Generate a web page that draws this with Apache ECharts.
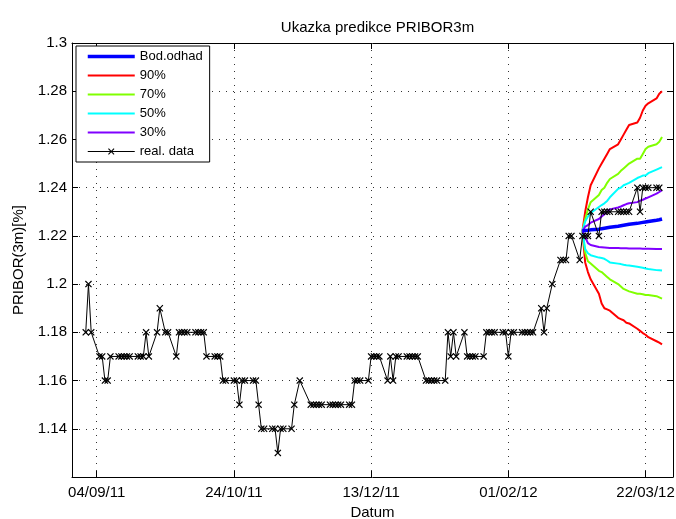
<!DOCTYPE html>
<html lang="cs">
<head>
<meta charset="UTF-8">
<title>Ukazka predikce PRIBOR3m</title>
<style>
    html, body { margin: 0; padding: 0; background: #fff; }
    #main { width: 676px; height: 519px; }
</style>
</head>
<body>
<div id="main"></div>
<script src="https://cdn.jsdelivr.net/npm/echarts@6/dist/echarts.min.js"></script>
<script>
    const chart = echarts.init(document.getElementById('main'));
    const font = 'Liberation Sans, Arial, Helvetica, sans-serif';

    /* realna data PRIBOR3m */
    const realDates = [
        '2011-08-31','2011-09-01','2011-09-02','2011-09-05','2011-09-06','2011-09-07','2011-09-08','2011-09-09',
        '2011-09-12','2011-09-13','2011-09-14','2011-09-15','2011-09-16','2011-09-19','2011-09-20','2011-09-21',
        '2011-09-22','2011-09-23','2011-09-26','2011-09-27','2011-09-29','2011-09-30','2011-10-03','2011-10-04',
        '2011-10-05','2011-10-06','2011-10-07','2011-10-10','2011-10-11','2011-10-12','2011-10-13','2011-10-14',
        '2011-10-17','2011-10-18','2011-10-19','2011-10-20','2011-10-21','2011-10-24','2011-10-25','2011-10-26',
        '2011-10-27','2011-10-28','2011-10-31','2011-11-01','2011-11-02','2011-11-03','2011-11-04','2011-11-07',
        '2011-11-08','2011-11-09','2011-11-10','2011-11-11','2011-11-14','2011-11-15','2011-11-17','2011-11-21',
        '2011-11-22','2011-11-23','2011-11-24','2011-11-25','2011-11-28','2011-11-29','2011-11-30','2011-12-01',
        '2011-12-02','2011-12-05','2011-12-06','2011-12-07','2011-12-08','2011-12-09','2011-12-12','2011-12-13',
        '2011-12-14','2011-12-15','2011-12-16','2011-12-19','2011-12-20','2011-12-21','2011-12-22','2011-12-23',
        '2011-12-26','2011-12-27','2011-12-28','2011-12-29','2011-12-30','2012-01-02','2012-01-03','2012-01-04',
        '2012-01-05','2012-01-06','2012-01-09','2012-01-10','2012-01-11','2012-01-12','2012-01-13','2012-01-16',
        '2012-01-17','2012-01-18','2012-01-19','2012-01-20','2012-01-23','2012-01-24','2012-01-25','2012-01-26',
        '2012-01-27','2012-01-30','2012-01-31','2012-02-01','2012-02-02','2012-02-03','2012-02-06','2012-02-07',
        '2012-02-08','2012-02-09','2012-02-10','2012-02-13','2012-02-14','2012-02-15','2012-02-17','2012-02-20',
        '2012-02-21','2012-02-22','2012-02-23','2012-02-24','2012-02-27','2012-02-28','2012-02-29','2012-03-01',
        '2012-03-02','2012-03-05','2012-03-06','2012-03-07','2012-03-08','2012-03-09','2012-03-12','2012-03-13',
        '2012-03-14','2012-03-15','2012-03-16','2012-03-19','2012-03-20','2012-03-21','2012-03-22','2012-03-23',
        '2012-03-26','2012-03-27'
    ];
    const realValues = [
        1.18,1.20,1.18,1.17,1.17,1.16,1.16,1.17,
        1.17,1.17,1.17,1.17,1.17,1.17,1.17,1.17,
        1.18,1.17,1.18,1.19,1.18,1.18,1.17,1.18,
        1.18,1.18,1.18,1.18,1.18,1.18,1.18,1.17,
        1.17,1.17,1.17,1.16,1.16,1.16,1.16,1.15,
        1.16,1.16,1.16,1.16,1.15,1.14,1.14,1.14,
        1.14,1.13,1.14,1.14,1.14,1.15,1.16,1.15,
        1.15,1.15,1.15,1.15,1.15,1.15,1.15,1.15,
        1.15,1.15,1.15,1.16,1.16,1.16,1.16,1.17,
        1.17,1.17,1.17,1.16,1.17,1.16,1.17,1.17,
        1.17,1.17,1.17,1.17,1.17,1.16,1.16,1.16,
        1.16,1.16,1.16,1.18,1.17,1.18,1.17,1.18,
        1.17,1.17,1.17,1.17,1.17,1.18,1.18,1.18,
        1.18,1.18,1.18,1.17,1.18,1.18,1.18,1.18,
        1.18,1.18,1.18,1.19,1.18,1.19,1.20,1.21,
        1.21,1.21,1.22,1.22,1.21,1.22,1.22,1.22,
        1.23,1.22,1.23,1.23,1.23,1.23,1.23,1.23,
        1.23,1.23,1.23,1.24,1.23,1.24,1.24,1.24,
        1.24,1.24
    ];

    /* predikce: bodovy odhad a kvantilove pasy */
    const fcDates = [
        '2012-02-28','2012-02-29','2012-03-01','2012-03-02','2012-03-05','2012-03-06','2012-03-07','2012-03-08',
        '2012-03-09','2012-03-12','2012-03-13','2012-03-14','2012-03-15','2012-03-16','2012-03-19','2012-03-20',
        '2012-03-21','2012-03-22','2012-03-23','2012-03-26','2012-03-27','2012-03-28'
    ];
    const pointEst = [1.222,1.2222,1.2223,1.2225,1.2228,1.223,1.2232,1.2234,1.2236,1.224,1.2242,1.2244,1.2246,1.2248,1.2252,1.2254,1.2256,1.2258,1.226,1.2265,1.2267,1.227];
    const q90Up = [1.222,1.230,1.236,1.241,1.248,1.250,1.252,1.254,1.256,1.258,1.260,1.262,1.264,1.266,1.267,1.269,1.272,1.274,1.275,1.277,1.279,1.280];
    const q90Lo = [1.222,1.209,1.205,1.202,1.196,1.192,1.190,1.1895,1.189,1.186,1.1855,1.185,1.184,1.1837,1.1815,1.1806,1.1797,1.179,1.178,1.1763,1.1757,1.175];
    const q70Up = [1.222,1.227,1.231,1.234,1.237,1.239,1.240,1.242,1.2436,1.2457,1.247,1.248,1.249,1.250,1.252,1.252,1.254,1.256,1.257,1.258,1.259,1.261];
    const q70Lo = [1.222,1.213,1.2095,1.2085,1.2055,1.205,1.204,1.203,1.202,1.200,1.199,1.198,1.1975,1.197,1.196,1.196,1.1958,1.1955,1.1955,1.195,1.1945,1.194];
    const q50Up = [1.222,1.226,1.228,1.2295,1.232,1.2328,1.2335,1.2345,1.236,1.2395,1.240,1.241,1.2415,1.242,1.244,1.2445,1.245,1.245,1.246,1.2475,1.248,1.2485];
    const q50Lo = [1.222,1.2145,1.2128,1.212,1.211,1.2108,1.2105,1.2098,1.209,1.2085,1.2083,1.208,1.2078,1.2077,1.2072,1.207,1.2068,1.2065,1.2063,1.2058,1.2057,1.2056];
    const q30Up = [1.222,1.2238,1.2245,1.2255,1.227,1.228,1.229,1.230,1.231,1.2318,1.2322,1.2327,1.2332,1.2335,1.234,1.2346,1.235,1.2355,1.236,1.2375,1.2382,1.239];
    const q30Lo = [1.222,1.2195,1.217,1.2162,1.2154,1.2153,1.2152,1.2151,1.215,1.215,1.2149,1.2149,1.2149,1.2148,1.2148,1.2148,1.2147,1.2147,1.2147,1.2146,1.2146,1.2146];

    /* osy */
    const xStart = '2011-08-26';
    const xEnd = '2012-04-01';
    const xTickDates = ['2011-09-04', '2011-10-24', '2011-12-13', '2012-02-01', '2012-03-22'];
    const xTickLabels = ['04/09/11', '24/10/11', '13/12/11', '01/02/12', '22/03/12'];
    const yMin = 1.12, yMax = 1.3, yStep = 0.02;

    // den 0 = 04/09/11
    const base = Date.UTC(2011, 8, 4);
    function dayNo(s) {
        const p = s.split('-');
        return (Date.UTC(+p[0], +p[1] - 1, +p[2]) - base) / 864e5;
    }
    const xTickDays = xTickDates.map(dayNo);

    const xMarker = 'path://M0,1.2L1.2,0L5,3.8L8.8,0L10,1.2L6.2,5L10,8.8L8.8,10L5,6.2L1.2,10L0,8.8L3.8,5Z';

    function fcSeries(name, values, color, width) {
        return {
            name: name,
            type: 'line',
            data: fcDates.map((d, i) => [dayNo(d), values[i]]),
            symbol: 'none',
            lineStyle: {color: color, width: width},
            itemStyle: {color: color},
            emphasis: {disabled: true}
        };
    }

    const textBase = {color: '#000', fontFamily: font, fontSize: 15};
    const frameLine = {show: true, onZero: false, lineStyle: {color: '#000', width: 1}};
    const inTick = {show: true, inside: true, length: 6, lineStyle: {color: '#000', width: 1}};
    const dotted = {show: true, lineStyle: {color: '#333', width: 1, type: [1, 6]}};

    const xCommon = {type: 'value', min: dayNo(xStart), max: dayNo(xEnd)};
    const xTick = Object.assign({}, inTick, {customValues: xTickDays});
    const yCommon = {type: 'value', min: yMin, max: yMax, interval: yStep};

    const option = {
        animation: false,
        backgroundColor: '#fff',
        title: {
            text: 'Ukazka predikce PRIBOR3m',
            left: 372.5,
            top: 15,
            textAlign: 'center',
            textStyle: Object.assign({}, textBase, {fontWeight: 'normal'})
        },
        grid: {left: 72, right: 3, top: 43, bottom: 42, containLabel: false, outerBoundsMode: 'none'},
        legend: {
            orient: 'vertical',
            left: 76,
            top: 46,
            padding: [4, 7, 4, 10],
            itemWidth: 47,
            itemHeight: 8,
            itemGap: 6,
            backgroundColor: '#fff',
            borderColor: '#000',
            borderWidth: 1,
            borderRadius: 0,
            selectedMode: false,
            textStyle: {color: '#000', fontFamily: font, fontSize: 13},
            data: [
                {name: 'Bod.odhad', itemStyle: {opacity: 0}, lineStyle: {width: 3.5}},
                {name: '90%', itemStyle: {opacity: 0}, lineStyle: {width: 2}},
                {name: '70%', itemStyle: {opacity: 0}, lineStyle: {width: 2}},
                {name: '50%', itemStyle: {opacity: 0}, lineStyle: {width: 2}},
                {name: '30%', itemStyle: {opacity: 0}, lineStyle: {width: 2}},
                {name: 'real. data', itemStyle: {borderWidth: 0}, lineStyle: {width: 1}}
            ]
        },
        xAxis: [
            Object.assign({}, xCommon, {
                position: 'bottom',
                name: 'Datum',
                nameLocation: 'middle',
                nameGap: 27,
                nameTextStyle: textBase,
                axisLine: frameLine,
                axisTick: xTick,
                axisLabel: Object.assign({}, textBase, {
                    margin: 8,
                    customValues: xTickDays,
                    formatter: function (v) {
                        const k = xTickDays.indexOf(v);
                        return k < 0 ? '' : xTickLabels[k];
                    }
                }),
                splitLine: dotted
            }),
            Object.assign({}, xCommon, {
                position: 'top',
                axisLine: frameLine,
                axisTick: xTick,
                axisLabel: {show: false},
                splitLine: {show: false}
            })
        ],
        yAxis: [
            Object.assign({}, yCommon, {
                position: 'left',
                name: 'PRIBOR(3m)[%]',
                nameLocation: 'middle',
                nameGap: 46,
                nameTextStyle: textBase,
                axisLine: frameLine,
                axisTick: inTick,
                axisLabel: Object.assign({}, textBase, {margin: 5, showMinLabel: false}),
                splitLine: dotted
            }),
            Object.assign({}, yCommon, {
                position: 'right',
                axisLine: frameLine,
                axisTick: inTick,
                axisLabel: {show: false},
                splitLine: {show: false}
            })
        ],
        series: [
            fcSeries('90%', q90Up, '#ff0000', 2),
            fcSeries('90%', q90Lo, '#ff0000', 2),
            fcSeries('70%', q70Up, '#80ff00', 2),
            fcSeries('70%', q70Lo, '#80ff00', 2),
            fcSeries('50%', q50Up, '#00ffff', 2),
            fcSeries('50%', q50Lo, '#00ffff', 2),
            fcSeries('30%', q30Up, '#8000ff', 2),
            fcSeries('30%', q30Lo, '#8000ff', 2),
            fcSeries('Bod.odhad', pointEst, '#0000ff', 3.5),
            {
                name: 'real. data',
                type: 'line',
                data: realDates.map((d, i) => [dayNo(d), realValues[i]]),
                symbol: xMarker,
                symbolSize: 7,
                showSymbol: true,
                lineStyle: {color: '#000', width: 1},
                itemStyle: {color: '#000', borderWidth: 0},
                emphasis: {disabled: true}
            }
        ]
    };

    chart.setOption(option);
</script>
</body>
</html>
